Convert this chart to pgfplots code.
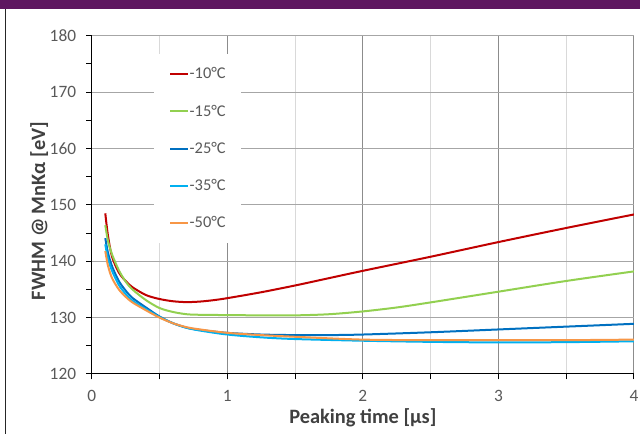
\documentclass[border=0pt]{standalone}
\usepackage{fontspec}
\setmainfont{Carlito}
\usepackage{pgfplots}
\pgfplotsset{compat=1.18}
\definecolor{barpurple}{HTML}{5E1660}
\definecolor{cA}{HTML}{C00000}
\definecolor{cB}{HTML}{92D050}
\definecolor{cC}{HTML}{0070C0}
\definecolor{cD}{HTML}{00B0F0}
\definecolor{cE}{HTML}{F79646}
\definecolor{txt}{HTML}{595959}
\definecolor{lbl}{HTML}{404040}
\begin{document}
\begin{tikzpicture}[x=1pt,y=1pt]
\path[use as bounding box] (0,0) rectangle (480,325.5);
\fill[barpurple] (0,318.75) rectangle (480,325.5);
\draw[line width=0.75pt, black!85] (4.1,0) -- (4.1,318.75);
\begin{axis}[
  at={(68.8pt,45pt)}, anchor=south west,
  scale only axis, width=406.7pt, height=253.7pt,
  xmin=0, xmax=4, ymin=120, ymax=180,
  xtick={0,1,2,3,4}, ytick={120,130,...,180},
  minor x tick num=1, minor y tick num=1,
  axis lines*=left,
  axis line style={-, black, line width=0.75pt},
  tick style={black, line width=0.75pt},
  tick align=outside,
  major tick length=4pt, minor tick length=4pt,
  xmajorgrids=true, ymajorgrids=true, xminorgrids=true,
  major x grid style={color=black!45, line width=0.75pt},
  minor x grid style={color=black!15, line width=0.75pt},
  major y grid style={color=black!35, line width=0.75pt},
  /pgf/number format/assume math mode=true,
  ticklabel style={font=\fontsize{13}{15}\selectfont, text=txt},
  xticklabel style={yshift=-4.5pt},
  yticklabel style={xshift=-4.2pt},
  xlabel={Peaking time [µs]},
  ylabel={FWHM @ MnKα [eV]},
  label style={font=\bfseries\fontsize{15.3}{18}\selectfont, text=lbl},
  xlabel style={at={(axis description cs:0.5,-0.1475)}, anchor=base},
  ylabel style={at={(axis description cs:-0.0861,0.482)}, anchor=base, rotate=0},
  legend style={at={(axis description cs:0.115,0.946)}, anchor=north west,
    draw=none, fill=white, font=\fontsize{12.3}{14}\selectfont, text=txt,
    row sep=14pt, inner xsep=11pt, inner ysep=8pt,
    nodes={inner xsep=0.5pt}},
  legend cell align=left,
  legend image code/.code={\draw[#1, line width=1.5pt] (0pt,0pt) -- (13.5pt,0pt);},
  every axis plot/.append style={line width=1.5pt, smooth, no markers},
]
\addplot[cA] coordinates {(0.1,148.5)(0.12,144.5)(0.15,140.8)(0.2,138.0)(0.25,136.5)(0.3,135.4)(0.4,134.0)(0.5,133.3)(0.6,132.9)(0.7,132.75)(0.8,132.85)(0.9,133.1)(1.0,133.45)(1.25,134.5)(1.5,135.7)(1.75,137.0)(2.0,138.3)(2.5,140.8)(3.0,143.4)(3.5,145.9)(4.0,148.3)};
\addlegendentry{-10°C}
\addplot[cB] coordinates {(0.1,146.4)(0.12,143.6)(0.15,141.2)(0.2,138.4)(0.25,136.4)(0.3,135.0)(0.4,133.1)(0.5,131.7)(0.6,131.0)(0.7,130.6)(0.8,130.5)(1.0,130.45)(1.25,130.4)(1.5,130.4)(1.75,130.6)(2.0,131.1)(2.25,131.8)(2.5,132.7)(3.0,134.6)(3.5,136.5)(4.0,138.2)};
\addlegendentry{-15°C}
\addplot[cC] coordinates {(0.1,144.1)(0.12,141.5)(0.15,139.1)(0.2,136.5)(0.25,134.8)(0.3,133.5)(0.4,131.8)(0.5,130.2)(0.6,129.0)(0.7,128.2)(0.8,127.8)(1.0,127.3)(1.25,127.0)(1.5,126.9)(1.75,126.9)(2.0,127.0)(2.5,127.4)(3.0,127.9)(3.5,128.4)(4.0,128.9)};
\addlegendentry{-25°C}
\addplot[cD] coordinates {(0.1,143.0)(0.12,140.5)(0.15,138.3)(0.2,135.8)(0.25,134.2)(0.3,133.0)(0.4,131.5)(0.5,130.1)(0.6,129.0)(0.7,128.2)(0.8,127.7)(1.0,127.0)(1.25,126.5)(1.5,126.2)(2.0,125.9)(2.5,125.7)(3.0,125.6)(3.5,125.65)(4.0,125.8)};
\addlegendentry{-35°C}
\addplot[cE] coordinates {(0.1,141.8)(0.12,139.2)(0.15,137.0)(0.2,135.0)(0.25,133.7)(0.3,132.7)(0.4,131.3)(0.5,130.0)(0.6,129.0)(0.7,128.3)(0.8,127.9)(1.0,127.3)(1.25,126.9)(1.5,126.6)(2.0,126.1)(2.5,126.0)(3.0,126.0)(3.5,126.0)(4.0,126.1)};
\addlegendentry{-50°C}
\end{axis}
\end{tikzpicture}
\end{document}
